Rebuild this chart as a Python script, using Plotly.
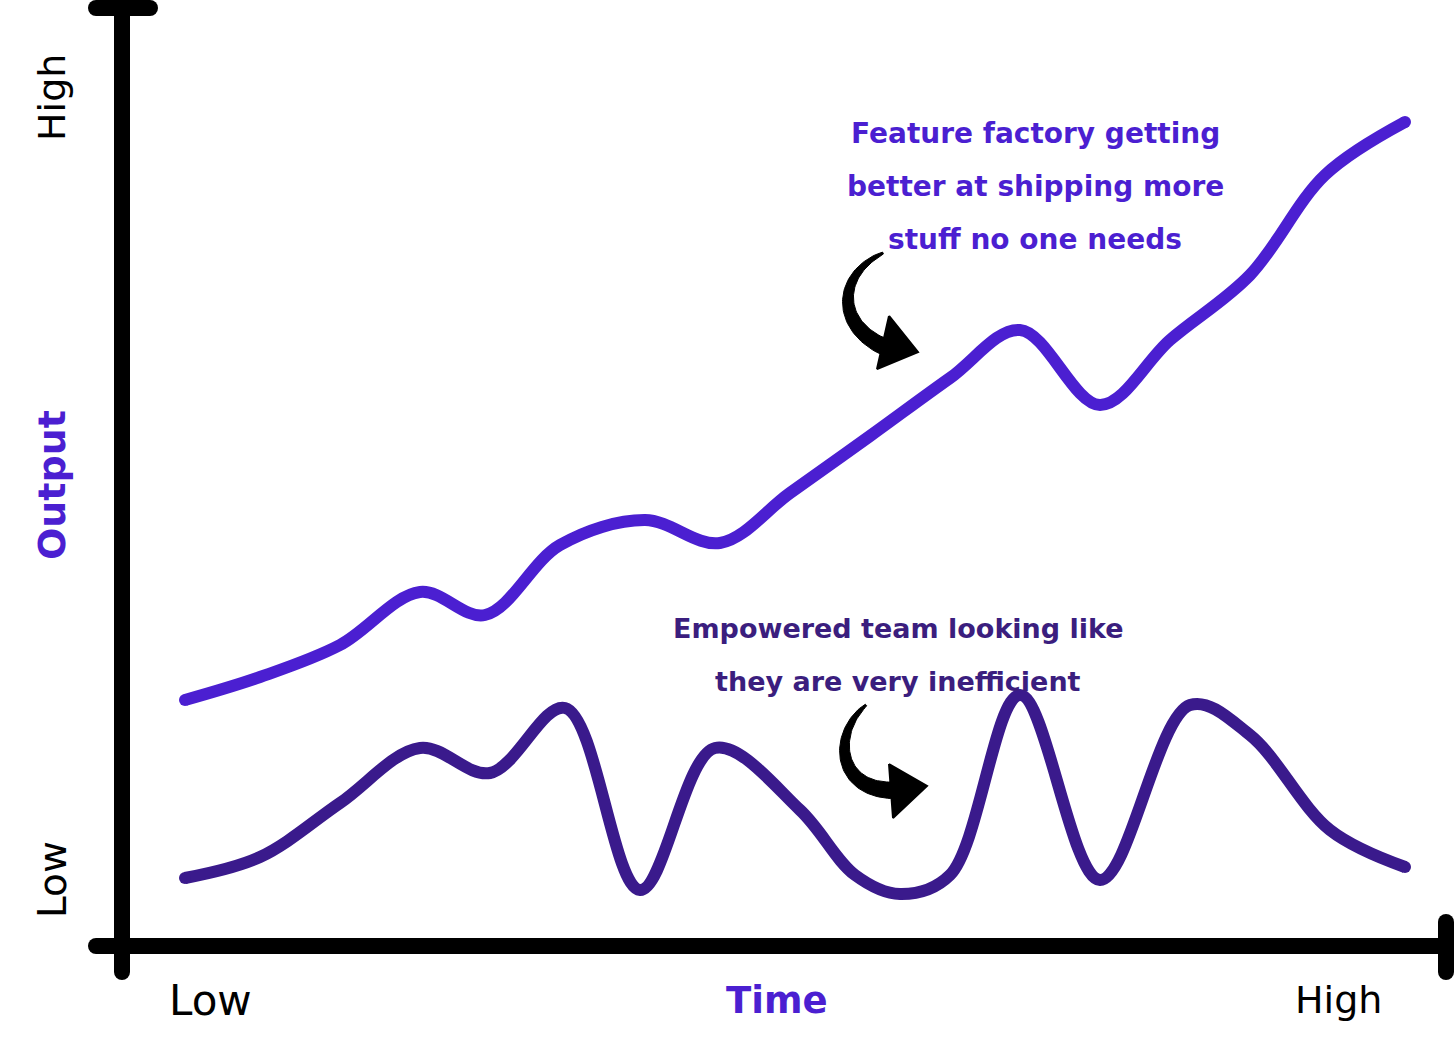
import numpy as np
import plotly.graph_objects as go

# ---- data (in chart units: x = time, y = output; y grows downward on canvas) ----
feature_x = [185, 260, 340, 420, 485, 560, 645, 720, 790, 870, 950, 1020, 1100, 1170, 1250, 1325, 1405]
feature_y = [700, 677, 645, 592, 615, 545, 520, 543, 493, 436, 378, 330, 405, 340, 275, 175, 122]

empowered_x = [185, 260, 340, 420, 490, 565, 640, 715, 800, 855, 900, 950, 1020, 1100, 1190, 1250, 1330, 1405]
empowered_y = [878, 857, 803, 748, 773, 708, 890, 748, 810, 875, 894, 875, 695, 880, 705, 735, 830, 867]

W, H = 1456, 1053
UPPER = "#4b1fd1"
LOWER = "#3a1a8c"
TXT_LOWER = "#3b1e7e"
FONT = "DejaVu Sans"

fig = go.Figure()

# axes drawn as thick black strokes with round caps
def stroke(xs, ys, width=16):
    fig.add_trace(go.Scatter(x=xs, y=ys, mode="lines", line=dict(color="black", width=width),
                             hoverinfo="skip", showlegend=False))
    fig.add_trace(go.Scatter(x=[xs[0], xs[-1]], y=[ys[0], ys[-1]], mode="markers",
                             marker=dict(color="black", size=width, line=dict(width=0)),
                             hoverinfo="skip", showlegend=False))

stroke([122, 122], [8, 972])
stroke([96, 150], [8, 8])
stroke([96, 1446], [946, 946])
stroke([1446, 1446], [922, 972])

# series
for xs, ys, c in [(feature_x, feature_y, UPPER), (empowered_x, empowered_y, LOWER)]:
    fig.add_trace(go.Scatter(x=xs, y=ys, mode="lines", line=dict(color=c, width=12, shape="spline", smoothing=1.0),
                             hoverinfo="skip", showlegend=False))
    fig.add_trace(go.Scatter(x=[xs[0], xs[-1]], y=[ys[0], ys[-1]], mode="markers",
                             marker=dict(color=c, size=12, line=dict(width=0)),
                             hoverinfo="skip", showlegend=False))

# curved arrows (decorations)
def arrow(p0, p1, p2, p3, w0, w1, barb1, tip, barb2):
    t = np.linspace(0, 1, 60)
    P = [np.array(p) for p in (p0, p1, p2, p3)]
    c = ((1-t)**3)[:, None]*P[0] + (3*(1-t)**2*t)[:, None]*P[1] + (3*(1-t)*t**2)[:, None]*P[2] + (t**3)[:, None]*P[3]
    d = np.gradient(c, axis=0)
    n = np.stack([-d[:, 1], d[:, 0]], axis=1)
    n /= np.linalg.norm(n, axis=1)[:, None]
    w = (w0 + (w1 - w0) * t**0.7)[:, None] / 2
    left = c + n*w
    right = c - n*w
    poly = np.vstack([left, right[::-1], left[:1]])
    fig.add_trace(go.Scatter(x=poly[:, 0], y=poly[:, 1], mode="lines", fill="toself", fillcolor="black",
                             line=dict(color="black", width=1), hoverinfo="skip", showlegend=False))
    hx = [barb1[0], tip[0], barb2[0], barb1[0]]
    hy = [barb1[1], tip[1], barb2[1], barb1[1]]
    fig.add_trace(go.Scatter(x=hx, y=hy, mode="lines", fill="toself", fillcolor="black",
                             line=dict(color="black", width=2), hoverinfo="skip", showlegend=False))

arrow((883, 253), (835, 275), (835, 330), (892, 350), 2, 17, (889, 316), (918, 352), (877, 369))
arrow((866, 705), (830, 735), (838, 795), (900, 790), 2, 17, (889, 764), (927, 786), (893, 818))

# text
ann = []
def txt(x, y, s, size, color="black", angle=0, bold=True):
    ann.append(dict(x=x, y=y, xref="x", yref="y", text=s, showarrow=False, textangle=angle,
                    font=dict(family=FONT, size=size, color=color, weight="bold" if bold else "normal"),
                    xanchor="center", yanchor="middle"))

txt(1035, 133, "Feature factory getting", 28, UPPER)
txt(1035, 186, "better at shipping more", 28, UPPER)
txt(1035, 239, "stuff no one needs", 28, UPPER)
txt(898, 628, "Empowered team looking like", 27, TXT_LOWER)
txt(898, 681, "they are very inefficient", 27, TXT_LOWER)

txt(52, 98, "High", 38, "black", -90, bold=False)
txt(52, 880, "Low", 39, "black", -90, bold=False)
txt(52, 485, "Output", 38, UPPER, -90)
txt(210, 1000, "Low", 42, bold=False)
txt(777, 1000, "Time", 37, UPPER)
txt(1338, 1000, "High", 38, bold=False)

fig.update_layout(
    width=W, height=H, margin=dict(l=0, r=0, t=0, b=0),
    paper_bgcolor="white", plot_bgcolor="white",
    xaxis=dict(range=[0, W], visible=False, fixedrange=True),
    yaxis=dict(range=[H, 0], visible=False, fixedrange=True),
    annotations=ann, showlegend=False,
)
fig.write_html("out.html", config={"displayModeBar": False},
               post_script="document.body.style.margin='0';document.body.style.overflow='hidden';")
